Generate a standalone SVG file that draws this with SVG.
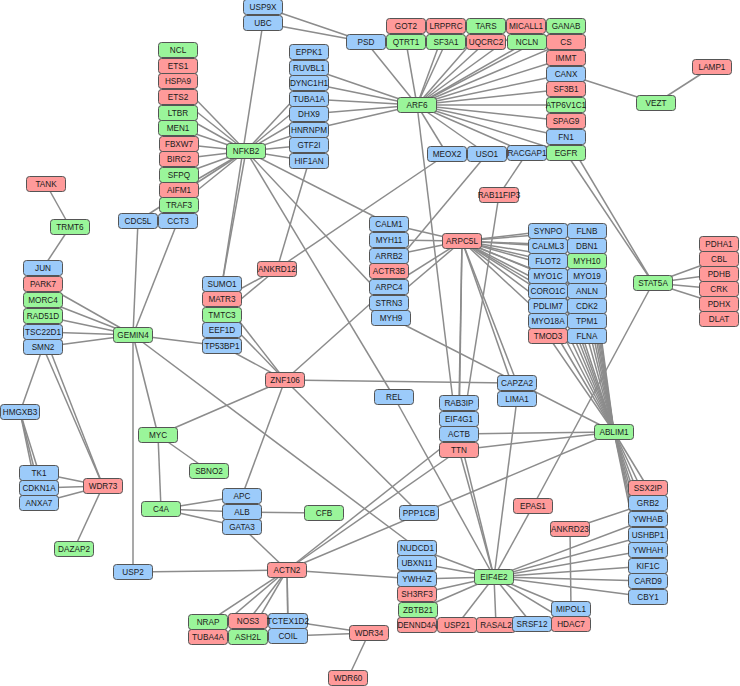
<svg xmlns="http://www.w3.org/2000/svg" width="740" height="686" viewBox="0 0 740 686">
<style>
.e line{stroke:#8c8c8c;stroke-width:1.5}
.n rect{stroke:#555;stroke-width:1;width:39px;height:15px;x:-19.5px;y:-7.5px;rx:3px;ry:3px}
.r rect{fill:#ff9a9a}.g rect{fill:#9af59a}.b rect{fill:#9ccbfa}
.n text{font-family:"Liberation Sans",Arial,sans-serif;font-size:8.2px;fill:#1a1a1a;text-anchor:middle}
</style>
<rect width="740" height="686" fill="#fff"/>
<g id="edges" class="e">
<line x1="246" y1="151" x2="178" y2="81"/><line x1="246" y1="151" x2="178" y2="97"/><line x1="246" y1="151" x2="178" y2="113"/><line x1="246" y1="151" x2="178" y2="128"/><line x1="246" y1="151" x2="179" y2="144"/><line x1="246" y1="151" x2="179" y2="159"/><line x1="246" y1="151" x2="179" y2="175"/><line x1="246" y1="151" x2="179" y2="190"/><line x1="246" y1="151" x2="179" y2="205"/><line x1="246" y1="151" x2="138" y2="221"/>
<line x1="246" y1="151" x2="309" y2="83"/><line x1="246" y1="151" x2="309" y2="99"/><line x1="246" y1="151" x2="309" y2="114"/><line x1="246" y1="151" x2="309" y2="130"/><line x1="246" y1="151" x2="309" y2="145"/><line x1="246" y1="151" x2="309" y2="161"/>
<line x1="246" y1="151" x2="389" y2="224"/><line x1="246" y1="151" x2="389" y2="303"/><line x1="246" y1="151" x2="394" y2="397"/><line x1="246" y1="151" x2="222" y2="284"/>
<line x1="263" y1="23" x2="222" y2="284"/><line x1="263" y1="7" x2="366" y2="42"/><line x1="263" y1="23" x2="366" y2="42"/>
<line x1="417" y1="105" x2="366" y2="42"/><line x1="417" y1="105" x2="406" y2="42"/><line x1="417" y1="105" x2="446" y2="42"/><line x1="417" y1="105" x2="446" y2="26"/><line x1="417" y1="105" x2="486" y2="26"/><line x1="417" y1="105" x2="486" y2="42"/><line x1="417" y1="105" x2="526" y2="26"/><line x1="417" y1="105" x2="527" y2="42"/><line x1="417" y1="105" x2="566" y2="26"/><line x1="417" y1="105" x2="566" y2="42"/><line x1="417" y1="105" x2="566" y2="58"/><line x1="417" y1="105" x2="566" y2="74"/><line x1="417" y1="105" x2="566" y2="89"/><line x1="417" y1="105" x2="566" y2="105"/><line x1="417" y1="105" x2="566" y2="121"/><line x1="417" y1="105" x2="566" y2="137"/><line x1="417" y1="105" x2="566" y2="153"/><line x1="417" y1="105" x2="527" y2="153"/><line x1="417" y1="105" x2="487" y2="154"/><line x1="417" y1="105" x2="447" y2="154"/>
<line x1="417" y1="105" x2="309" y2="68"/><line x1="417" y1="105" x2="309" y2="83"/><line x1="417" y1="105" x2="309" y2="99"/><line x1="417" y1="105" x2="309" y2="114"/><line x1="417" y1="105" x2="309" y2="130"/><line x1="417" y1="105" x2="459" y2="450"/>
<line x1="566" y1="74" x2="656" y2="103"/><line x1="656" y1="103" x2="712" y2="67"/>
<line x1="527" y1="153" x2="499" y2="195"/><line x1="499" y1="195" x2="459" y2="450"/>
<line x1="566" y1="153" x2="653" y2="283"/><line x1="566" y1="137" x2="653" y2="283"/>
<line x1="653" y1="283" x2="719" y2="259"/><line x1="653" y1="283" x2="719" y2="274"/><line x1="653" y1="283" x2="719" y2="289"/><line x1="653" y1="283" x2="719" y2="304"/><line x1="653" y1="283" x2="533" y2="506"/>
<line x1="277" y1="269" x2="309" y2="161"/><line x1="277" y1="269" x2="447" y2="154"/><line x1="277" y1="269" x2="222" y2="299"/><line x1="277" y1="269" x2="222" y2="315"/>
<line x1="487" y1="154" x2="389" y2="271"/>
<line x1="285" y1="380" x2="222" y2="299"/><line x1="285" y1="380" x2="222" y2="315"/><line x1="285" y1="380" x2="222" y2="346"/><line x1="285" y1="380" x2="389" y2="287"/><line x1="285" y1="380" x2="517" y2="383"/><line x1="285" y1="380" x2="242" y2="496"/><line x1="285" y1="380" x2="158" y2="435"/><line x1="285" y1="380" x2="419" y2="513"/>
<line x1="133" y1="335" x2="43" y2="284"/><line x1="133" y1="335" x2="43" y2="300"/><line x1="133" y1="335" x2="43" y2="316"/><line x1="133" y1="335" x2="43" y2="332"/><line x1="133" y1="335" x2="43" y2="347"/><line x1="133" y1="335" x2="138" y2="221"/><line x1="133" y1="335" x2="178" y2="221"/><line x1="133" y1="335" x2="222" y2="346"/><line x1="133" y1="335" x2="158" y2="435"/><line x1="133" y1="335" x2="133" y2="572"/><line x1="133" y1="335" x2="417" y2="548"/>
<line x1="70" y1="227" x2="46" y2="184"/><line x1="70" y1="227" x2="43" y2="268"/>
<line x1="43" y1="347" x2="20" y2="412"/><line x1="43" y1="347" x2="103" y2="486"/><line x1="43" y1="332" x2="103" y2="486"/>
<line x1="20" y1="412" x2="39" y2="473"/><line x1="20" y1="412" x2="39" y2="488"/><line x1="20" y1="412" x2="39" y2="503"/>
<line x1="103" y1="486" x2="39" y2="473"/><line x1="103" y1="486" x2="39" y2="488"/><line x1="103" y1="486" x2="39" y2="503"/><line x1="103" y1="486" x2="74" y2="549"/>
<line x1="158" y1="435" x2="209" y2="471"/><line x1="158" y1="435" x2="161" y2="509"/>
<line x1="161" y1="509" x2="242" y2="496"/><line x1="161" y1="509" x2="242" y2="512"/><line x1="161" y1="509" x2="242" y2="527"/>
<line x1="242" y1="512" x2="324" y2="513"/><line x1="242" y1="527" x2="287" y2="570"/><line x1="133" y1="572" x2="287" y2="570"/>
<line x1="287" y1="570" x2="459" y2="450"/><line x1="287" y1="570" x2="459" y2="434"/><line x1="287" y1="570" x2="614" y2="432"/><line x1="287" y1="570" x2="417" y2="579"/><line x1="287" y1="570" x2="208" y2="622"/><line x1="287" y1="570" x2="208" y2="637"/><line x1="287" y1="570" x2="248" y2="621"/><line x1="287" y1="570" x2="248" y2="637"/><line x1="287" y1="570" x2="288" y2="621"/><line x1="287" y1="570" x2="288" y2="636"/>
<line x1="288" y1="621" x2="369" y2="633"/><line x1="288" y1="636" x2="369" y2="633"/><line x1="369" y1="633" x2="348" y2="678"/>
<line x1="462" y1="241" x2="389" y2="224"/><line x1="462" y1="241" x2="389" y2="240"/><line x1="462" y1="241" x2="389" y2="256"/><line x1="462" y1="241" x2="389" y2="287"/><line x1="462" y1="241" x2="389" y2="303"/>
<line x1="462" y1="241" x2="548" y2="231"/><line x1="462" y1="241" x2="548" y2="246"/><line x1="462" y1="241" x2="548" y2="261"/><line x1="462" y1="241" x2="548" y2="276"/><line x1="462" y1="241" x2="548" y2="291"/><line x1="462" y1="241" x2="548" y2="306"/><line x1="462" y1="241" x2="548" y2="321"/>
<line x1="462" y1="241" x2="587" y2="231"/><line x1="462" y1="241" x2="587" y2="246"/><line x1="462" y1="241" x2="587" y2="261"/><line x1="462" y1="241" x2="587" y2="276"/><line x1="462" y1="241" x2="587" y2="291"/><line x1="462" y1="241" x2="587" y2="306"/><line x1="462" y1="241" x2="587" y2="321"/>
<line x1="462" y1="241" x2="517" y2="383"/><line x1="462" y1="241" x2="517" y2="399"/><line x1="462" y1="241" x2="459" y2="403"/><line x1="462" y1="241" x2="459" y2="434"/>
<line x1="391" y1="318" x2="614" y2="432"/>
<line x1="614" y1="432" x2="548" y2="231"/><line x1="614" y1="432" x2="548" y2="246"/><line x1="614" y1="432" x2="548" y2="261"/><line x1="614" y1="432" x2="548" y2="276"/><line x1="614" y1="432" x2="548" y2="291"/><line x1="614" y1="432" x2="548" y2="306"/><line x1="614" y1="432" x2="548" y2="321"/><line x1="614" y1="432" x2="548" y2="336"/>
<line x1="614" y1="432" x2="587" y2="231"/><line x1="614" y1="432" x2="587" y2="246"/><line x1="614" y1="432" x2="587" y2="261"/><line x1="614" y1="432" x2="587" y2="276"/><line x1="614" y1="432" x2="587" y2="291"/><line x1="614" y1="432" x2="587" y2="306"/><line x1="614" y1="432" x2="587" y2="321"/><line x1="614" y1="432" x2="587" y2="336"/>
<line x1="614" y1="432" x2="648" y2="488"/><line x1="614" y1="432" x2="648" y2="503"/><line x1="614" y1="432" x2="648" y2="519"/><line x1="614" y1="432" x2="648" y2="535"/><line x1="614" y1="432" x2="648" y2="550"/><line x1="614" y1="432" x2="648" y2="566"/><line x1="614" y1="432" x2="648" y2="581"/><line x1="614" y1="432" x2="648" y2="597"/>
<line x1="614" y1="432" x2="459" y2="434"/><line x1="614" y1="432" x2="459" y2="450"/>
<line x1="517" y1="399" x2="494" y2="577"/><line x1="394" y1="397" x2="494" y2="577"/><line x1="459" y1="450" x2="494" y2="577"/><line x1="459" y1="434" x2="494" y2="577"/><line x1="533" y1="506" x2="494" y2="577"/>
<line x1="494" y1="577" x2="417" y2="548"/><line x1="494" y1="577" x2="417" y2="563"/><line x1="494" y1="577" x2="417" y2="579"/><line x1="494" y1="577" x2="417" y2="594"/><line x1="494" y1="577" x2="418" y2="610"/><line x1="494" y1="577" x2="457" y2="625"/><line x1="494" y1="577" x2="496" y2="625"/><line x1="494" y1="577" x2="532" y2="624"/><line x1="494" y1="577" x2="571" y2="609"/><line x1="494" y1="577" x2="571" y2="624"/>
<line x1="494" y1="577" x2="648" y2="519"/><line x1="494" y1="577" x2="648" y2="535"/><line x1="494" y1="577" x2="648" y2="550"/><line x1="494" y1="577" x2="648" y2="566"/><line x1="494" y1="577" x2="648" y2="581"/><line x1="494" y1="577" x2="648" y2="597"/>
<line x1="570" y1="529" x2="648" y2="503"/><line x1="570" y1="529" x2="571" y2="609"/>
</g>
<g id="USP9X" class="n b" transform="translate(263,7)"><rect/><text y="3">USP9X</text></g>
<g id="UBC" class="n b" transform="translate(263,23)"><rect/><text y="3">UBC</text></g>
<g id="PSD" class="n b" transform="translate(366,42)"><rect/><text y="3">PSD</text></g>
<g id="GOT2" class="n r" transform="translate(406,26)"><rect/><text y="3">GOT2</text></g>
<g id="LRPPRC" class="n r" transform="translate(446,26)"><rect/><text y="3">LRPPRC</text></g>
<g id="TARS" class="n g" transform="translate(486,26)"><rect/><text y="3">TARS</text></g>
<g id="MICALL1" class="n r" transform="translate(526,26)"><rect/><text y="3">MICALL1</text></g>
<g id="GANAB" class="n g" transform="translate(566,26)"><rect/><text y="3">GANAB</text></g>
<g id="QTRT1" class="n g" transform="translate(406,42)"><rect/><text y="3">QTRT1</text></g>
<g id="SF3A1" class="n g" transform="translate(446,42)"><rect/><text y="3">SF3A1</text></g>
<g id="UQCRC2" class="n r" transform="translate(486,42)"><rect/><text y="3">UQCRC2</text></g>
<g id="NCLN" class="n g" transform="translate(527,42)"><rect/><text y="3">NCLN</text></g>
<g id="CS" class="n r" transform="translate(566,42)"><rect/><text y="3">CS</text></g>
<g id="IMMT" class="n r" transform="translate(566,58)"><rect/><text y="3">IMMT</text></g>
<g id="CANX" class="n b" transform="translate(566,74)"><rect/><text y="3">CANX</text></g>
<g id="SF3B1" class="n r" transform="translate(566,89)"><rect/><text y="3">SF3B1</text></g>
<g id="ATP6V1C1" class="n g" transform="translate(566,105)"><rect/><text y="3">ATP6V1C1</text></g>
<g id="SPAG9" class="n r" transform="translate(566,121)"><rect/><text y="3">SPAG9</text></g>
<g id="FN1" class="n b" transform="translate(566,137)"><rect/><text y="3">FN1</text></g>
<g id="EGFR" class="n g" transform="translate(566,153)"><rect/><text y="3">EGFR</text></g>
<g id="RACGAP1" class="n b" transform="translate(527,153)"><rect/><text y="3">RACGAP1</text></g>
<g id="USO1" class="n b" transform="translate(487,154)"><rect/><text y="3">USO1</text></g>
<g id="MEOX2" class="n b" transform="translate(447,154)"><rect/><text y="3">MEOX2</text></g>
<g id="ARF6" class="n g" transform="translate(417,105)"><rect/><text y="3">ARF6</text></g>
<g id="LAMP1" class="n r" transform="translate(712,67)"><rect/><text y="3">LAMP1</text></g>
<g id="VEZT" class="n g" transform="translate(656,103)"><rect/><text y="3">VEZT</text></g>
<g id="RAB11FIP3" class="n r" transform="translate(499,195)"><rect/><text y="3">RAB11FIP3</text></g>
<g id="EPPK1" class="n b" transform="translate(309,52)"><rect/><text y="3">EPPK1</text></g>
<g id="RUVBL1" class="n b" transform="translate(309,68)"><rect/><text y="3">RUVBL1</text></g>
<g id="DYNC1H1" class="n b" transform="translate(309,83)"><rect/><text y="3">DYNC1H1</text></g>
<g id="TUBA1A" class="n b" transform="translate(309,99)"><rect/><text y="3">TUBA1A</text></g>
<g id="DHX9" class="n b" transform="translate(309,114)"><rect/><text y="3">DHX9</text></g>
<g id="HNRNPM" class="n b" transform="translate(309,130)"><rect/><text y="3">HNRNPM</text></g>
<g id="GTF2I" class="n b" transform="translate(309,145)"><rect/><text y="3">GTF2I</text></g>
<g id="HIF1AN" class="n b" transform="translate(309,161)"><rect/><text y="3">HIF1AN</text></g>
<g id="NFKB2" class="n g" transform="translate(246,151)"><rect/><text y="3">NFKB2</text></g>
<g id="NCL" class="n g" transform="translate(178,50)"><rect/><text y="3">NCL</text></g>
<g id="ETS1" class="n r" transform="translate(178,66)"><rect/><text y="3">ETS1</text></g>
<g id="HSPA9" class="n r" transform="translate(178,81)"><rect/><text y="3">HSPA9</text></g>
<g id="ETS2" class="n r" transform="translate(178,97)"><rect/><text y="3">ETS2</text></g>
<g id="LTBR" class="n g" transform="translate(178,113)"><rect/><text y="3">LTBR</text></g>
<g id="MEN1" class="n g" transform="translate(178,128)"><rect/><text y="3">MEN1</text></g>
<g id="FBXW7" class="n r" transform="translate(179,144)"><rect/><text y="3">FBXW7</text></g>
<g id="BIRC2" class="n r" transform="translate(179,159)"><rect/><text y="3">BIRC2</text></g>
<g id="SFPQ" class="n g" transform="translate(179,175)"><rect/><text y="3">SFPQ</text></g>
<g id="AIFM1" class="n r" transform="translate(179,190)"><rect/><text y="3">AIFM1</text></g>
<g id="TRAF3" class="n g" transform="translate(179,205)"><rect/><text y="3">TRAF3</text></g>
<g id="CCT3" class="n b" transform="translate(178,221)"><rect/><text y="3">CCT3</text></g>
<g id="CDC5L" class="n b" transform="translate(138,221)"><rect/><text y="3">CDC5L</text></g>
<g id="TANK" class="n r" transform="translate(46,184)"><rect/><text y="3">TANK</text></g>
<g id="TRMT6" class="n g" transform="translate(70,227)"><rect/><text y="3">TRMT6</text></g>
<g id="JUN" class="n b" transform="translate(43,268)"><rect/><text y="3">JUN</text></g>
<g id="PARK7" class="n r" transform="translate(43,284)"><rect/><text y="3">PARK7</text></g>
<g id="MORC4" class="n g" transform="translate(43,300)"><rect/><text y="3">MORC4</text></g>
<g id="RAD51D" class="n g" transform="translate(43,316)"><rect/><text y="3">RAD51D</text></g>
<g id="TSC22D1" class="n b" transform="translate(43,332)"><rect/><text y="3">TSC22D1</text></g>
<g id="SMN2" class="n b" transform="translate(43,347)"><rect/><text y="3">SMN2</text></g>
<g id="GEMIN4" class="n g" transform="translate(133,335)"><rect/><text y="3">GEMIN4</text></g>
<g id="HMGXB3" class="n b" transform="translate(20,412)"><rect/><text y="3">HMGXB3</text></g>
<g id="TK1" class="n b" transform="translate(39,473)"><rect/><text y="3">TK1</text></g>
<g id="CDKN1A" class="n b" transform="translate(39,488)"><rect/><text y="3">CDKN1A</text></g>
<g id="ANXA7" class="n b" transform="translate(39,503)"><rect/><text y="3">ANXA7</text></g>
<g id="WDR73" class="n r" transform="translate(103,486)"><rect/><text y="3">WDR73</text></g>
<g id="DAZAP2" class="n g" transform="translate(74,549)"><rect/><text y="3">DAZAP2</text></g>
<g id="MYC" class="n g" transform="translate(158,435)"><rect/><text y="3">MYC</text></g>
<g id="SBNO2" class="n g" transform="translate(209,471)"><rect/><text y="3">SBNO2</text></g>
<g id="C4A" class="n g" transform="translate(161,509)"><rect/><text y="3">C4A</text></g>
<g id="USP2" class="n b" transform="translate(133,572)"><rect/><text y="3">USP2</text></g>
<g id="SUMO1" class="n b" transform="translate(222,284)"><rect/><text y="3">SUMO1</text></g>
<g id="MATR3" class="n r" transform="translate(222,299)"><rect/><text y="3">MATR3</text></g>
<g id="TMTC3" class="n g" transform="translate(222,315)"><rect/><text y="3">TMTC3</text></g>
<g id="EEF1D" class="n b" transform="translate(222,330)"><rect/><text y="3">EEF1D</text></g>
<g id="TP53BP1" class="n b" transform="translate(222,346)"><rect/><text y="3">TP53BP1</text></g>
<g id="ANKRD12" class="n r" transform="translate(277,269)"><rect/><text y="3">ANKRD12</text></g>
<g id="ZNF106" class="n r" transform="translate(285,380)"><rect/><text y="3">ZNF106</text></g>
<g id="CALM1" class="n b" transform="translate(389,224)"><rect/><text y="3">CALM1</text></g>
<g id="MYH11" class="n b" transform="translate(389,240)"><rect/><text y="3">MYH11</text></g>
<g id="ARRB2" class="n b" transform="translate(389,256)"><rect/><text y="3">ARRB2</text></g>
<g id="ACTR3B" class="n r" transform="translate(389,271)"><rect/><text y="3">ACTR3B</text></g>
<g id="ARPC4" class="n b" transform="translate(389,287)"><rect/><text y="3">ARPC4</text></g>
<g id="STRN3" class="n b" transform="translate(389,303)"><rect/><text y="3">STRN3</text></g>
<g id="MYH9" class="n b" transform="translate(391,318)"><rect/><text y="3">MYH9</text></g>
<g id="ARPC5L" class="n r" transform="translate(462,241)"><rect/><text y="3">ARPC5L</text></g>
<g id="SYNPO" class="n b" transform="translate(548,231)"><rect/><text y="3">SYNPO</text></g>
<g id="CALML3" class="n b" transform="translate(548,246)"><rect/><text y="3">CALML3</text></g>
<g id="FLOT2" class="n b" transform="translate(548,261)"><rect/><text y="3">FLOT2</text></g>
<g id="MYO1C" class="n b" transform="translate(548,276)"><rect/><text y="3">MYO1C</text></g>
<g id="CORO1C" class="n b" transform="translate(548,291)"><rect/><text y="3">CORO1C</text></g>
<g id="PDLIM7" class="n b" transform="translate(548,306)"><rect/><text y="3">PDLIM7</text></g>
<g id="MYO18A" class="n b" transform="translate(548,321)"><rect/><text y="3">MYO18A</text></g>
<g id="TMOD3" class="n r" transform="translate(548,336)"><rect/><text y="3">TMOD3</text></g>
<g id="FLNB" class="n b" transform="translate(587,231)"><rect/><text y="3">FLNB</text></g>
<g id="DBN1" class="n b" transform="translate(587,246)"><rect/><text y="3">DBN1</text></g>
<g id="MYH10" class="n g" transform="translate(587,261)"><rect/><text y="3">MYH10</text></g>
<g id="MYO19" class="n b" transform="translate(587,276)"><rect/><text y="3">MYO19</text></g>
<g id="ANLN" class="n b" transform="translate(587,291)"><rect/><text y="3">ANLN</text></g>
<g id="CDK2" class="n b" transform="translate(587,306)"><rect/><text y="3">CDK2</text></g>
<g id="TPM1" class="n b" transform="translate(587,321)"><rect/><text y="3">TPM1</text></g>
<g id="FLNA" class="n b" transform="translate(587,336)"><rect/><text y="3">FLNA</text></g>
<g id="STAT5A" class="n g" transform="translate(653,283)"><rect/><text y="3">STAT5A</text></g>
<g id="PDHA1" class="n r" transform="translate(719,244)"><rect/><text y="3">PDHA1</text></g>
<g id="CBL" class="n r" transform="translate(719,259)"><rect/><text y="3">CBL</text></g>
<g id="PDHB" class="n r" transform="translate(719,274)"><rect/><text y="3">PDHB</text></g>
<g id="CRK" class="n r" transform="translate(719,289)"><rect/><text y="3">CRK</text></g>
<g id="PDHX" class="n r" transform="translate(719,304)"><rect/><text y="3">PDHX</text></g>
<g id="DLAT" class="n r" transform="translate(719,319)"><rect/><text y="3">DLAT</text></g>
<g id="CAPZA2" class="n b" transform="translate(517,383)"><rect/><text y="3">CAPZA2</text></g>
<g id="LIMA1" class="n b" transform="translate(517,399)"><rect/><text y="3">LIMA1</text></g>
<g id="ABLIM1" class="n g" transform="translate(614,432)"><rect/><text y="3">ABLIM1</text></g>
<g id="REL" class="n b" transform="translate(394,397)"><rect/><text y="3">REL</text></g>
<g id="RAB3IP" class="n b" transform="translate(459,403)"><rect/><text y="3">RAB3IP</text></g>
<g id="EIF4G1" class="n b" transform="translate(459,419)"><rect/><text y="3">EIF4G1</text></g>
<g id="ACTB" class="n b" transform="translate(459,434)"><rect/><text y="3">ACTB</text></g>
<g id="TTN" class="n r" transform="translate(459,450)"><rect/><text y="3">TTN</text></g>
<g id="APC" class="n b" transform="translate(242,496)"><rect/><text y="3">APC</text></g>
<g id="ALB" class="n b" transform="translate(242,512)"><rect/><text y="3">ALB</text></g>
<g id="GATA3" class="n b" transform="translate(242,527)"><rect/><text y="3">GATA3</text></g>
<g id="CFB" class="n g" transform="translate(324,513)"><rect/><text y="3">CFB</text></g>
<g id="PPP1CB" class="n b" transform="translate(419,513)"><rect/><text y="3">PPP1CB</text></g>
<g id="EPAS1" class="n r" transform="translate(533,506)"><rect/><text y="3">EPAS1</text></g>
<g id="ANKRD23" class="n r" transform="translate(570,529)"><rect/><text y="3">ANKRD23</text></g>
<g id="SSX2IP" class="n r" transform="translate(648,488)"><rect/><text y="3">SSX2IP</text></g>
<g id="GRB2" class="n b" transform="translate(648,503)"><rect/><text y="3">GRB2</text></g>
<g id="YWHAB" class="n b" transform="translate(648,519)"><rect/><text y="3">YWHAB</text></g>
<g id="USHBP1" class="n b" transform="translate(648,535)"><rect/><text y="3">USHBP1</text></g>
<g id="YWHAH" class="n b" transform="translate(648,550)"><rect/><text y="3">YWHAH</text></g>
<g id="KIF1C" class="n b" transform="translate(648,566)"><rect/><text y="3">KIF1C</text></g>
<g id="CARD9" class="n b" transform="translate(648,581)"><rect/><text y="3">CARD9</text></g>
<g id="CBY1" class="n b" transform="translate(648,597)"><rect/><text y="3">CBY1</text></g>
<g id="ACTN2" class="n r" transform="translate(287,570)"><rect/><text y="3">ACTN2</text></g>
<g id="NUDCD1" class="n b" transform="translate(417,548)"><rect/><text y="3">NUDCD1</text></g>
<g id="UBXN11" class="n b" transform="translate(417,563)"><rect/><text y="3">UBXN11</text></g>
<g id="YWHAZ" class="n b" transform="translate(417,579)"><rect/><text y="3">YWHAZ</text></g>
<g id="SH3RF3" class="n r" transform="translate(417,594)"><rect/><text y="3">SH3RF3</text></g>
<g id="ZBTB21" class="n g" transform="translate(418,610)"><rect/><text y="3">ZBTB21</text></g>
<g id="DENND4A" class="n r" transform="translate(417,625)"><rect/><text y="3">DENND4A</text></g>
<g id="EIF4E2" class="n g" transform="translate(494,577)"><rect/><text y="3">EIF4E2</text></g>
<g id="USP21" class="n r" transform="translate(457,625)"><rect/><text y="3">USP21</text></g>
<g id="RASAL2" class="n r" transform="translate(496,625)"><rect/><text y="3">RASAL2</text></g>
<g id="SRSF12" class="n b" transform="translate(532,624)"><rect/><text y="3">SRSF12</text></g>
<g id="HDAC7" class="n r" transform="translate(571,624)"><rect/><text y="3">HDAC7</text></g>
<g id="MIPOL1" class="n b" transform="translate(571,609)"><rect/><text y="3">MIPOL1</text></g>
<g id="NRAP" class="n g" transform="translate(208,622)"><rect/><text y="3">NRAP</text></g>
<g id="TUBA4A" class="n r" transform="translate(208,637)"><rect/><text y="3">TUBA4A</text></g>
<g id="NOS3" class="n r" transform="translate(248,621)"><rect/><text y="3">NOS3</text></g>
<g id="ASH2L" class="n g" transform="translate(248,637)"><rect/><text y="3">ASH2L</text></g>
<g id="TCTEX1D2" class="n b" transform="translate(288,621)"><rect/><text y="3">TCTEX1D2</text></g>
<g id="COIL" class="n b" transform="translate(288,636)"><rect/><text y="3">COIL</text></g>
<g id="WDR34" class="n r" transform="translate(369,633)"><rect/><text y="3">WDR34</text></g>
<g id="WDR60" class="n r" transform="translate(348,678)"><rect/><text y="3">WDR60</text></g>
</svg>
